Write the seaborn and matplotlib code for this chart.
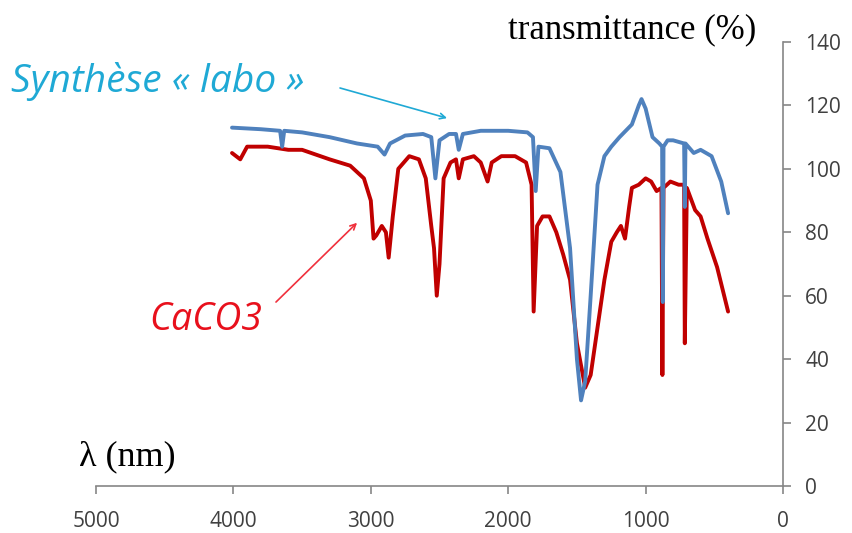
import numpy as np
import pandas as pd
import seaborn as sns
from matplotlib import pyplot as plt

# spectre "Synthèse labo" (bleu)
labo_wn = [4010, 3800, 3660, 3645, 3630, 3500, 3300, 3100, 2950, 2900, 2860, 2750,
           2620, 2560, 2530, 2500, 2430, 2380, 2360, 2330, 2200, 2000, 1860, 1820,
           1800, 1780, 1700, 1620, 1550, 1500, 1470, 1440, 1400, 1350, 1300, 1250,
           1190, 1100, 1050, 1030, 1000, 950, 900, 880, 875, 870, 840, 800, 720,
           715, 710, 650, 600, 520, 450, 400]
labo_t = [113, 112.5, 112, 107, 112, 111.5, 110, 108, 107, 104.5, 108, 110.5,
          111, 110, 97, 109, 111, 111, 106, 111, 112, 112, 111.5, 110,
          93, 107, 106.5, 99, 75, 40, 27, 33, 60, 95, 104, 107,
          110, 114, 120, 122, 119, 110, 108, 107, 58, 107, 109, 109, 108,
          88, 108, 105, 106, 104, 96, 86]

# spectre CaCO3 (rouge)
caco3_wn = [4010, 3950, 3900, 3750, 3600, 3500, 3300, 3150, 3050, 3000, 2980, 2960,
            2920, 2890, 2870, 2840, 2800, 2720, 2650, 2600, 2560, 2540, 2520, 2500,
            2470, 2420, 2380, 2360, 2330, 2250, 2200, 2150, 2120, 2050, 1950, 1870,
            1830, 1815, 1790, 1750, 1700, 1650, 1600, 1550, 1500, 1440, 1400, 1350,
            1300, 1250, 1210, 1180, 1150, 1120, 1100, 1050, 1000, 960, 920, 885,
            878, 870, 820, 760, 720, 715, 700, 640, 600, 550, 480, 400]
caco3_t = [105, 103, 107, 107, 106, 106, 103, 101, 97, 90, 78, 79,
           82, 80, 72, 85, 100, 104, 103, 97, 82, 75, 60, 70,
           97, 102, 103, 97, 103, 104, 102, 96, 102, 104, 104, 102,
           95, 55, 82, 85, 85, 80, 73, 65, 45, 31, 35, 50,
           65, 77, 80, 82, 78, 88, 94, 95, 97, 96, 93, 94,
           35, 94, 96, 95, 95, 45, 94, 87, 85, 78, 69, 55]

x_ticks = [5000, 4000, 3000, 2000, 1000, 0]
y_ticks = [0, 20, 40, 60, 80, 100, 120, 140]

df = pd.concat([
    pd.DataFrame({"wn": caco3_wn, "T": caco3_t, "serie": "CaCO3"}),
    pd.DataFrame({"wn": labo_wn, "T": labo_t, "serie": "labo"}),
])

sns.set_style("white")
plt.rcParams["font.family"] = ["Open Sans", "DejaVu Sans"]

fig = plt.figure(figsize=(8.53, 5.33), dpi=100)
ax = fig.add_axes([0.1125, 0.0882, 0.8055, 0.833])

sns.lineplot(data=df, x="wn", y="T", hue="serie", sort=False, estimator=None,
             palette={"CaCO3": "#C00000", "labo": "#4F81BD"}, linewidth=2.8,
             legend=False, ax=ax)

ax.set_xlim(5000, 0)
ax.set_ylim(0, 140)
ax.set_xticks(x_ticks)
ax.set_yticks(y_ticks)
ax.yaxis.tick_right()
for s in ["top", "left"]:
    ax.spines[s].set_visible(False)
for s in ["bottom", "right"]:
    ax.spines[s].set_color("#868686")
    ax.spines[s].set_linewidth(1.2)
ax.tick_params(axis="both", colors="#868686", length=6, width=1.2, direction="out",
               labelcolor="#404040", labelsize=15)
ax.tick_params(axis="x", bottom=True, pad=12)
ax.tick_params(axis="y", right=True, left=False, pad=10)
ax.set_xlabel("")
ax.set_ylabel("")

fig.text(0.595, 0.944, "transmittance (%)", family="Liberation Serif", fontsize=25,
         color="black", ha="left", va="center")
fig.text(0.093, 0.142, "λ (nm)", family="Liberation Serif", fontsize=26,
         color="black", ha="left", va="center")

fig.text(0.013, 0.848, "Synthèse « labo »", fontsize=28, style="italic",
         color="#1FA9D5", ha="left", va="center")
ax.annotate("", xy=(2445, 116), xytext=(3224, 125.5),
            arrowprops=dict(arrowstyle="->", color="#1FA9D5", lw=1.2,
                            shrinkA=0, shrinkB=0))
ax.annotate("", xy=(3100, 83), xytext=(3690, 58),
            arrowprops=dict(arrowstyle="->", color="#F0303C", lw=1.2,
                            shrinkA=0, shrinkB=0))
fig.text(0.175, 0.4, "CaCO3", fontsize=27, style="italic", color="#E8101C",
         ha="left", va="center")

fig.savefig("out.png", dpi=100)
